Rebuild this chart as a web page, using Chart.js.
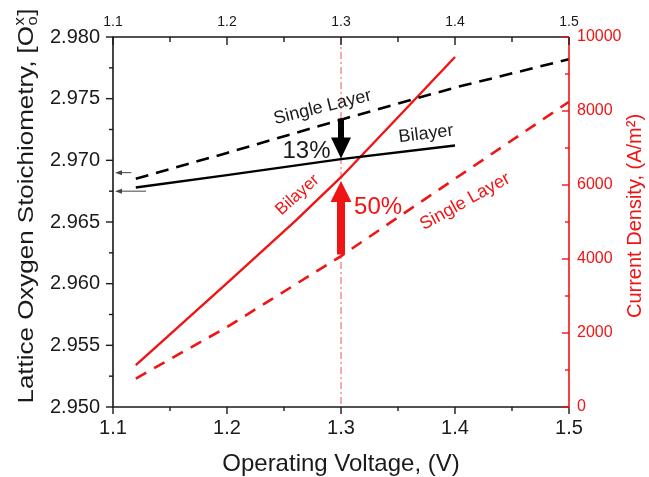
<!DOCTYPE html>
<html><head><meta charset="utf-8">
<script src="https://cdn.jsdelivr.net/npm/chart.js@4.4.1/dist/chart.umd.min.js"></script>
<style>html,body{margin:0;padding:0;background:#fff;overflow:hidden}</style>
</head><body>
<canvas id="c" width="649" height="477" style="display:block;width:649px;height:477px"></canvas>
<script>
// ---------------- data ----------------
const voltageTicks = [1.1, 1.2, 1.3, 1.4, 1.5];
const stoichTicks = [2.950, 2.955, 2.960, 2.965, 2.970, 2.975, 2.980];
const currentTicks = [0, 2000, 4000, 6000, 8000, 10000];

const voltSingleBlack = [1.12, 1.2, 1.3, 1.4, 1.5];
const stoichSingle   = [2.9685, 2.9706, 2.9733, 2.9759, 2.9782];
const voltBilayerBlack = [1.12, 1.2, 1.3, 1.4];
const stoichBilayer  = [2.9678, 2.9688, 2.9701, 2.9712];
const voltBilayerRed = [1.12, 1.2, 1.26, 1.3, 1.35, 1.4];
const currentBilayer = [1130, 3350, 5030, 6210, 7830, 9460];
const voltSingleRed  = [1.12, 1.2, 1.3, 1.4, 1.5];
const currentSingle  = [770, 2160, 4080, 6170, 8250];

const markerVoltage = 1.3;
const blackArrow = [2.9734, 2.97015];   // from, to (left axis)
const redArrow   = [4120, 6110];        // from, to (right axis)
const leftMarks  = [[1.116, 2.9690], [1.129, 2.9675]]; // tail x, y

const FONT = "'Liberation Sans', Arial, Helvetica, sans-serif";
const RED = '#f01414';
const INK = '#1a1a1a';

function pts(xs, ys){ return xs.map((x,i)=>({x:x, y:ys[i]})); }

// -------------- custom drawing plugin ---------------
const deco = {
  id: 'deco',
  beforeDatasetsDraw(chart){
    const {ctx, chartArea:a, scales:{x}} = chart;
    const px = x.getPixelForValue(markerVoltage);
    ctx.save();
    ctx.strokeStyle = 'rgba(235,60,60,0.85)';
    ctx.lineWidth = 1;
    ctx.setLineDash([7,3,2,3]);
    ctx.beginPath(); ctx.moveTo(px, a.top); ctx.lineTo(px, a.bottom); ctx.stroke();
    ctx.restore();
  },
  afterDatasetsDraw(chart){
    const {ctx, chartArea:a, scales:{x, y, y2}} = chart;
    ctx.save();
    // frame
    ctx.lineWidth = 1.6;
    ctx.strokeStyle = INK;
    ctx.beginPath();
    ctx.moveTo(a.right, a.top); ctx.lineTo(a.left, a.top); ctx.lineTo(a.left, a.bottom); ctx.lineTo(a.right, a.bottom);
    ctx.stroke();
    ctx.strokeStyle = RED;
    ctx.beginPath(); ctx.moveTo(a.right, a.top); ctx.lineTo(a.right, a.bottom); ctx.stroke();

    // ticks
    ctx.lineWidth = 1.4;
    ctx.strokeStyle = INK;
    const tick = (x1,y1,x2_,y2_) => { ctx.beginPath(); ctx.moveTo(x1,y1); ctx.lineTo(x2_,y2_); ctx.stroke(); };
    for (let i=0;i<voltageTicks.length;i++){
      const v = voltageTicks[i];
      const p = x.getPixelForValue(v);
      tick(p, a.bottom, p, a.bottom+7);
      tick(p, a.top, p, a.top+8);
      if (i < voltageTicks.length-1){
        const m = x.getPixelForValue((v+voltageTicks[i+1])/2);
        tick(m, a.bottom, m, a.bottom+4);
        tick(m, a.top, m, a.top+5);
      }
    }
    for (let i=0;i<stoichTicks.length;i++){
      const v = stoichTicks[i];
      const p = y.getPixelForValue(v);
      tick(a.left-7, p, a.left, p);
      if (i < stoichTicks.length-1){
        const m = y.getPixelForValue((v+stoichTicks[i+1])/2);
        tick(a.left-4, m, a.left, m);
      }
    }
    ctx.strokeStyle = RED;
    for (let i=0;i<currentTicks.length;i++){
      const v = currentTicks[i];
      const p = y2.getPixelForValue(v);
      tick(a.right-7, p, a.right, p);
      if (i < currentTicks.length-1){
        const m = y2.getPixelForValue((v+currentTicks[i+1])/2);
        tick(a.right-4, m, a.right, m);
      }
    }

    // small gray arrows at left axis
    ctx.strokeStyle = '#444'; ctx.fillStyle = '#444'; ctx.lineWidth = 1;
    leftMarks.forEach(([tx, ty])=>{
      const py = y.getPixelForValue(ty);
      const x0 = x.getPixelForValue(tx), x1 = a.left + 2;
      ctx.beginPath(); ctx.moveTo(x0, py); ctx.lineTo(x1+5, py); ctx.stroke();
      ctx.beginPath(); ctx.moveTo(x1, py); ctx.lineTo(x1+7, py-2.5); ctx.lineTo(x1+7, py+2.5); ctx.closePath(); ctx.fill();
    });

    // block arrows
    const px = x.getPixelForValue(markerVoltage);
    function blockArrow(yFrom, yTo, shaftW, headW, headL, color){
      const dir = yTo > yFrom ? 1 : -1;
      const base = yTo - dir*headL;
      ctx.fillStyle = color;
      ctx.beginPath();
      ctx.moveTo(px - shaftW/2, yFrom);
      ctx.lineTo(px + shaftW/2, yFrom);
      ctx.lineTo(px + shaftW/2, base);
      ctx.lineTo(px + headW/2, base);
      ctx.lineTo(px, yTo);
      ctx.lineTo(px - headW/2, base);
      ctx.lineTo(px - shaftW/2, base);
      ctx.closePath();
      ctx.fill();
    }
    blockArrow(y.getPixelForValue(blackArrow[0]), y.getPixelForValue(blackArrow[1]), 6, 20, 21, '#000');
    blockArrow(y2.getPixelForValue(redArrow[0]), y2.getPixelForValue(redArrow[1]), 8, 21, 21, RED);

    // annotation texts
    function txt(s, vx, py, deg, size, color){
      ctx.save();
      ctx.translate(x.getPixelForValue(vx), py);
      ctx.rotate(deg*Math.PI/180);
      ctx.font = size + 'px ' + FONT;
      ctx.fillStyle = color;
      ctx.textAlign = 'center';
      ctx.textBaseline = 'middle';
      ctx.fillText(s, 0, 0);
      ctx.restore();
    }
    txt('Single Layer', 1.2838, y.getPixelForValue(2.97430), -14, 18, INK);
    txt('Bilayer', 1.3746, y.getPixelForValue(2.97214), -7, 18, INK);
    txt('13%', 1.2697, y.getPixelForValue(2.97072), 0, 24, INK);
    txt('50%', 1.3325, y2.getPixelForValue(5405), 0, 24, RED);
    txt('Bilayer', 1.2618, y2.getPixelForValue(5730), -42, 17, RED);
    txt('Single Layer', 1.4088, y2.getPixelForValue(5549), -29, 18, RED);

    // left axis title (with sub/superscript)
    ctx.save();
    ctx.translate(25, 206);
    ctx.rotate(-Math.PI/2);
    ctx.scale(1.18, 1);
    const ts = 22;
    ctx.font = ts + 'px ' + FONT;
    ctx.fillStyle = INK;
    ctx.textBaseline = 'alphabetic';
    const main = 'Lattice Oxygen Stoichiometry, [O';
    const wMain = ctx.measureText(main).width;
    ctx.font = Math.round(ts*0.62) + 'px ' + FONT;
    const wSub = Math.max(ctx.measureText('o').width, ctx.measureText('x').width);
    ctx.font = ts + 'px ' + FONT;
    const wBr = ctx.measureText(']').width;
    const total = wMain + wSub + 1 + wBr;
    let sx = -total/2;
    const bl = ts*0.36;
    ctx.fillText(main, sx, bl); sx += wMain;
    ctx.font = Math.round(ts*0.62) + 'px ' + FONT;
    ctx.fillText('x', sx+0.5, bl - ts*0.42);
    ctx.fillText('o', sx+0.5, bl + ts*0.2);
    sx += wSub + 1;
    ctx.font = ts + 'px ' + FONT;
    ctx.fillText(']', sx, bl);
    ctx.restore();

    // right axis title
    ctx.save();
    ctx.translate(635, 216);
    ctx.rotate(-Math.PI/2);
    ctx.font = '20px ' + FONT;
    ctx.fillStyle = RED;
    ctx.textAlign = 'center';
    ctx.textBaseline = 'middle';
    ctx.fillText('Current Density, (A/m\u00B2)', 0, 0);
    ctx.restore();

    ctx.restore();
  }
};

const chart = new Chart(document.getElementById('c'), {
  type: 'line',
  data: {
    datasets: [
      { label:'Single Layer O', data: pts(voltSingleBlack, stoichSingle), yAxisID:'y', xAxisID:'x',
        borderColor:'#000', borderWidth:2.6, borderDash:[13,8], pointRadius:0, fill:false, tension:0 },
      { label:'Bilayer O', data: pts(voltBilayerBlack, stoichBilayer), yAxisID:'y', xAxisID:'x',
        borderColor:'#000', borderWidth:2.4, pointRadius:0, fill:false, tension:0 },
      { label:'Bilayer J', data: pts(voltBilayerRed, currentBilayer), yAxisID:'y2', xAxisID:'x',
        borderColor:RED, borderWidth:2.4, pointRadius:0, fill:false, tension:0 },
      { label:'Single Layer J', data: pts(voltSingleRed, currentSingle), yAxisID:'y2', xAxisID:'x',
        borderColor:RED, borderWidth:2.6, borderDash:[12,9], pointRadius:0, fill:false, tension:0 }
    ]
  },
  plugins: [deco],
  options: {
    responsive:false, devicePixelRatio:1, animation:false,
    layout:{ padding:0 },
    plugins:{ legend:{display:false}, tooltip:{enabled:false} },
    scales:{
      x:{ type:'linear', position:'bottom', min:1.1, max:1.5,
          afterBuildTicks:s=>{ s.ticks = voltageTicks.map(v=>({value:v})); },
          afterFit:s=>{ s.height = 70; },
          grid:{display:false, drawTicks:false}, border:{display:false},
          title:{ display:true, text:'Operating Voltage, (V)', color:INK, font:{family:FONT, size:24}, padding:{top:0, bottom:-2} },
          ticks:{ font:{family:FONT, size:20}, color:INK, padding:9, maxRotation:0, callback:v=>v.toFixed(1) } },
      x2:{ type:'linear', position:'top', min:1.1, max:1.5,
          afterBuildTicks:s=>{ s.ticks = voltageTicks.map(v=>({value:v})); },
          afterFit:s=>{ s.height = 37; },
          grid:{display:false, drawTicks:false}, border:{display:false},
          ticks:{ font:{family:FONT, size:14}, color:INK, padding:6, maxRotation:0, callback:v=>v.toFixed(1) } },
      y:{ type:'linear', position:'left', min:2.95, max:2.98,
          afterBuildTicks:s=>{ s.ticks = stoichTicks.map(v=>({value:v})); },
          afterFit:s=>{ s.width = 113; },
          grid:{display:false, drawTicks:false}, border:{display:false},
          ticks:{ font:{family:FONT, size:20}, color:INK, padding:13, callback:v=>v.toFixed(3) } },
      y2:{ type:'linear', position:'right', min:0, max:10000,
          afterBuildTicks:s=>{ s.ticks = currentTicks.map(v=>({value:v})); },
          afterFit:s=>{ s.width = 80; },
          grid:{display:false, drawTicks:false}, border:{display:false},
          ticks:{ font:{family:FONT, size:16}, color:RED, padding:8, callback:v=>String(v) } }
    }
  }
});
</script>
</body></html>
